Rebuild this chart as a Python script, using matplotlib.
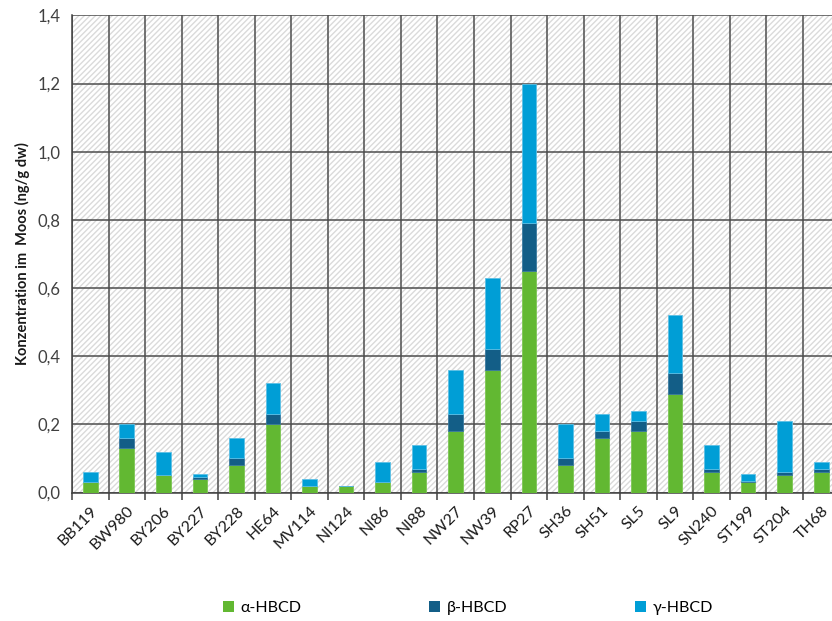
import matplotlib
matplotlib.use("Agg")
import matplotlib.pyplot as plt
from matplotlib.patches import Patch
from matplotlib.ticker import FixedLocator, FuncFormatter
import numpy as np

plt.rcParams['font.family'] = ['Lato', 'DejaVu Sans']
plt.rcParams['hatch.color'] = '#dadada'
plt.rcParams['hatch.linewidth'] = 1.0

sites = ["BB119", "BW980", "BY206", "BY227", "BY228", "HE64", "MV114", "NI124",
         "NI86", "NI88", "NW27", "NW39", "RP27", "SH36", "SH51", "SL5", "SL9",
         "SN240", "ST199", "ST204", "TH68"]
alpha_hbcd = [0.03, 0.13, 0.05, 0.04, 0.08, 0.20, 0.02, 0.02, 0.03, 0.06, 0.18,
              0.36, 0.65, 0.08, 0.16, 0.18, 0.29, 0.06, 0.03, 0.05, 0.06]
beta_hbcd = [0.0, 0.03, 0.0, 0.005, 0.02, 0.03, 0.0, 0.0, 0.0, 0.01, 0.05,
             0.06, 0.14, 0.02, 0.02, 0.03, 0.06, 0.01, 0.005, 0.01, 0.01]
gamma_hbcd = [0.03, 0.04, 0.07, 0.01, 0.06, 0.09, 0.02, 0.0, 0.06, 0.07, 0.13,
              0.21, 0.41, 0.10, 0.05, 0.03, 0.17, 0.07, 0.02, 0.15, 0.02]
series_names = ["α-HBCD", "β-HBCD", "γ-HBCD"]
colors = ["#62b832", "#135e87", "#009ed6"]
edge_colors = ["#7cc653", "#3a7aa0", "#5cc0e6"]

fig = plt.figure(figsize=(8.32, 6.21), dpi=100)
ax = fig.add_axes([0.0865, 0.2069, 0.9225, 0.7684])

# hatched plot background
ax.set_facecolor('white')
ax.add_patch(plt.Rectangle((0, 0), 1, 1, transform=ax.transAxes, facecolor='white',
                           edgecolor='#dadada', hatch='//////', linewidth=0, zorder=0))

x = np.arange(len(sites))
bottom = np.zeros(len(sites))
for vals, c, ec in zip([alpha_hbcd, beta_hbcd, gamma_hbcd], colors, edge_colors):
    v = np.array(vals)
    ax.bar(x, v, width=0.4, bottom=bottom, color=c, edgecolor=ec, linewidth=0.6, zorder=3)
    bottom += v

ax.set_xlim(-0.5, len(sites) - 0.5)
ax.set_ylim(0, 1.4)
ax.set_yticks(np.arange(0, 1.41, 0.2))
ax.yaxis.set_major_formatter(FuncFormatter(lambda v, p: f"{v:.1f}".replace('.', ',')))
ax.set_xticks(x)
ax.set_xticklabels(sites, rotation=45, ha='right', rotation_mode='anchor')
ax.xaxis.set_minor_locator(FixedLocator(np.arange(-0.5, len(sites), 1.0)))

ax.tick_params(axis='x', which='major', length=0, pad=8, labelsize=11.5, labelcolor='#1a1a1a')
ax.tick_params(axis='x', which='minor', length=5, width=1.1, color='#404040')
ax.tick_params(axis='y', length=0, pad=8, labelsize=12, labelcolor='#404040')

ax.grid(axis='y', which='major', color='#4d4d4d', linewidth=1.1, zorder=1)
ax.grid(axis='x', which='minor', color='#4d4d4d', linewidth=1.1, zorder=1)
ax.set_axisbelow(True)

for s in ['right', 'top']:
    ax.spines[s].set_visible(False)
for s in ['left', 'bottom']:
    ax.spines[s].set_color('#404040')
    ax.spines[s].set_linewidth(1.1)

ax.set_ylabel("Konzentration im  Moos (ng/g dw)", fontsize=10.5, fontweight='bold',
              color='#1a1a1a', labelpad=6)

handles = [Patch(facecolor=c, edgecolor='none') for c in colors]
fig.legend(handles, series_names, loc='center', bbox_to_anchor=(0.5625, 0.021), ncol=3,
           frameon=False, fontsize=11.5, handlelength=0.7, handleheight=0.7,
           handletextpad=0.4, columnspacing=8.0)

fig.savefig("out.png", dpi=100)
